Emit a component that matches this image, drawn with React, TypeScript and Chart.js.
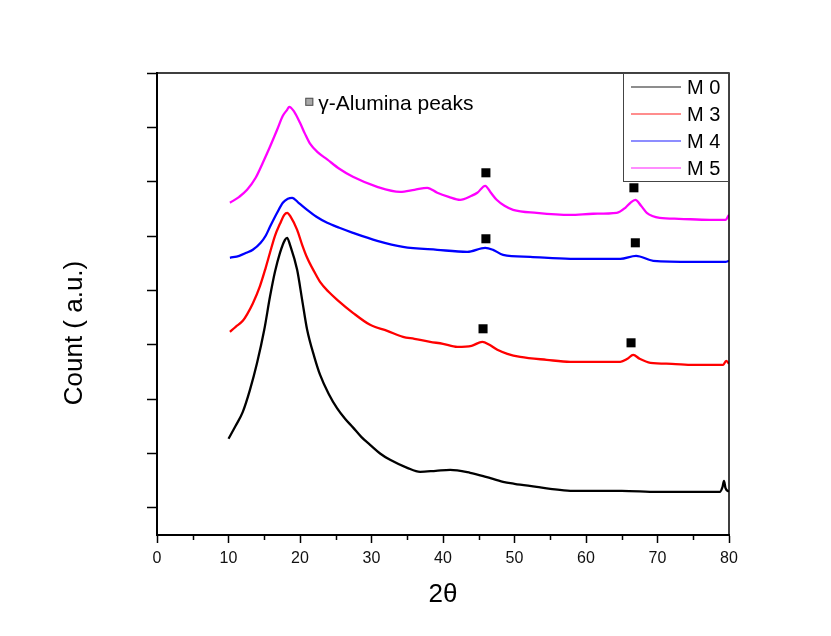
import { useEffect, useRef } from "react";
import { Chart, registerables } from "chart.js";

Chart.register(...registerables);

// ---- data (2θ in degrees, counts in arbitrary units) ----
const m0X = [10, 11, 12, 13, 14, 15, 15.8, 16.5, 17.2, 17.9, 18.2, 18.6, 19.6, 20.3, 21, 22, 22.8, 24, 25.2, 26.3, 27.4, 28.6, 29.8, 31.2, 32.6, 35, 36.8, 39, 41, 43.8, 46, 48.4, 50, 53.1, 55, 57.8, 62, 65, 70, 75, 78.7, 79.1, 79.3, 79.5, 80];
const m0Y = [1270, 1509, 1766, 2171, 2668, 3275, 3882, 4342, 4692, 4931, 4968, 4839, 4379, 3827, 3275, 2778, 2450, 2100, 1830, 1640, 1480, 1300, 1159, 1000, 883, 736, 662, 681, 699, 644, 570, 478, 442, 386, 350, 313, 313, 313, 294, 294, 294, 386, 497, 368, 294];

const m3X = [10.2, 11, 12, 12.6, 13.4, 14.4, 15.2, 15.8, 16.5, 17.2, 17.8, 18.2, 18.7, 19.6, 20.3, 21, 22, 22.8, 24, 25.2, 27.4, 29.8, 32.2, 34.4, 36, 38.2, 40, 42, 44, 45.5, 46.5, 47.6, 49, 50.8, 54.5, 57.8, 61, 64.8, 65.8, 66.6, 67.5, 69, 72, 75, 79.2, 79.6, 80];
const m3Y = [3238, 3330, 3440, 3560, 3760, 4080, 4416, 4692, 5005, 5226, 5391, 5428, 5354, 5115, 4839, 4600, 4342, 4158, 3974, 3827, 3588, 3367, 3257, 3146, 3110, 3054, 3018, 2962, 2981, 3054, 2999, 2907, 2834, 2778, 2723, 2686, 2686, 2686, 2742, 2815, 2742, 2668, 2650, 2631, 2631, 2705, 2650];

const m4X = [10.2, 11.5, 12.5, 13.4, 14.5, 15.2, 15.8, 16.8, 17.6, 18.3, 18.9, 19.8, 21, 22.3, 23.8, 25.5, 27.4, 30.8, 34.4, 39.2, 43.4, 45.9, 47, 48.4, 52.2, 57.8, 64.8, 67, 69.4, 75, 79.5, 80];
const m4Y = [4600, 4637, 4692, 4747, 4876, 5005, 5170, 5428, 5612, 5686, 5704, 5612, 5483, 5354, 5244, 5152, 5060, 4913, 4802, 4747, 4710, 4784, 4747, 4655, 4618, 4582, 4582, 4637, 4545, 4526, 4526, 4545];

const m5X = [10.2, 11.5, 12.6, 13.8, 14.8, 15.8, 16.8, 17.6, 18.2, 18.5, 19.2, 20, 20.7, 21.4, 22.5, 23.8, 25.5, 27.4, 30.8, 34, 36, 37.8, 39.2, 40.8, 42.4, 44, 44.8, 45.9, 46.7, 47.5, 48.6, 49.8, 53.1, 57.8, 61, 64.3, 65.5, 66.2, 66.9, 67.7, 68.5, 70.3, 73, 77.3, 79.5, 80];
const m5Y = [5612, 5722, 5851, 6072, 6348, 6642, 6955, 7213, 7323, 7378, 7286, 7084, 6880, 6700, 6540, 6410, 6238, 6090, 5906, 5814, 5851, 5888, 5796, 5722, 5667, 5741, 5796, 5925, 5796, 5667, 5557, 5483, 5428, 5391, 5410, 5428, 5520, 5612, 5667, 5557, 5428, 5336, 5318, 5299, 5299, 5391];

// γ-alumina peak markers
const peakX = [46, 46, 45.6, 66.7, 66.9, 66.3];
const peakY = [6164, 4950, 3294, 5888, 4876, 3036];

const seriesLabels = ["M 0", "M 3", "M 4", "M 5"];
const seriesColors = ["#000000", "#ff0000", "#0000ff", "#ff00ff"];

const xTickValues = [0, 10, 20, 30, 40, 50, 60, 70, 80];
const xMinorTicks = [5, 15, 25, 35, 45, 55, 65, 75];
const yTickValues = [0, 1000, 2000, 3000, 4000, 5000, 6000, 7000, 8000];

const annotationText = "γ-Alumina peaks";
const annotationAt = { x: 21.3, y: 7470 };
const xTitle = "2θ";
const yTitle = "Count ( a.u.)";

const FONT = "'Liberation Sans', Arial, sans-serif";

const toPts = (xs: number[], ys: number[]) => xs.map((x, i) => ({ x, y: ys[i] }));

const decorPlugin = {
  id: "decor",
  afterDraw(chart: any) {
    const { ctx, chartArea, scales } = chart;
    const { left, right, top, bottom } = chartArea;
    const xs = scales.x;
    const ys = scales.y;
    ctx.save();

    // top and right frame
    ctx.strokeStyle = "#000";
    ctx.lineWidth = 1.5;
    ctx.beginPath();
    ctx.moveTo(left, top);
    ctx.lineTo(right, top);
    ctx.lineTo(right, bottom);
    ctx.stroke();

    // minor x ticks
    ctx.lineWidth = 1.5;
    ctx.beginPath();
    for (const v of xMinorTicks) {
      const px = Math.round(xs.getPixelForValue(v)) + 0.5;
      ctx.moveTo(px, bottom);
      ctx.lineTo(px, bottom + 5);
    }
    ctx.stroke();

    // legend box
    const lx = right - 106;
    const lw = 106;
    const lh = 108;
    ctx.fillStyle = "#fff";
    ctx.fillRect(lx, top, lw, lh);
    ctx.strokeStyle = "#444";
    ctx.lineWidth = 1;
    ctx.strokeRect(lx + 0.5, top + 0.5, lw - 1, lh);
    ctx.font = `20px ${FONT}`;
    ctx.textBaseline = "middle";
    ctx.textAlign = "left";
    for (let i = 0; i < 4; i++) {
      const ds = chart.data.datasets[i];
      const yy = top + 14 + i * 27;
      ctx.strokeStyle = ds.borderColor;
      ctx.globalAlpha = 0.6;
      ctx.lineWidth = 1.5;
      ctx.beginPath();
      ctx.moveTo(lx + 8, yy);
      ctx.lineTo(lx + 58, yy);
      ctx.stroke();
      ctx.globalAlpha = 1;
      ctx.fillStyle = "#000";
      ctx.fillText(ds.label, lx + 64, yy + 1);
    }

    // annotation
    const ax = xs.getPixelForValue(annotationAt.x);
    const ay = ys.getPixelForValue(annotationAt.y);
    ctx.fillStyle = "#a8a8a8";
    ctx.strokeStyle = "#555";
    ctx.lineWidth = 1;
    ctx.fillRect(ax - 4, ay - 4, 8, 8);
    ctx.strokeRect(ax - 3.5, ay - 3.5, 7, 7);
    ctx.fillStyle = "#000";
    ctx.font = `21px ${FONT}`;
    ctx.textBaseline = "middle";
    ctx.fillText(annotationText, ax + 9, ay + 2);

    // axis titles
    ctx.font = `26px ${FONT}`;
    ctx.textAlign = "center";
    ctx.fillStyle = "#000";
    ctx.fillText(xTitle, (left + right) / 2, 595);
    ctx.save();
    ctx.translate(75, 333);
    ctx.rotate(-Math.PI / 2);
    ctx.fillText(yTitle, 0, 0);
    ctx.restore();

    ctx.restore();
  },
};

export default function App() {
  const ref = useRef<HTMLCanvasElement | null>(null);

  useEffect(() => {
    if (!ref.current) return;
    const lineDs = (i: number, xs: number[], ys: number[]) => ({
      type: "line" as const,
      label: seriesLabels[i],
      data: toPts(xs, ys),
      borderColor: seriesColors[i],
      backgroundColor: seriesColors[i],
      borderWidth: 2.3,
      pointRadius: 0,
      cubicInterpolationMode: "monotone" as const,
      fill: false,
    });
    const chart = new Chart(ref.current, {
      type: "line",
      data: {
        datasets: [
          lineDs(0, m0X, m0Y),
          lineDs(1, m3X, m3Y),
          lineDs(2, m4X, m4Y),
          lineDs(3, m5X, m5Y),
          {
            type: "scatter",
            label: "peaks",
            data: toPts(peakX, peakY),
            pointStyle: "rect",
            pointRadius: 6.4,
            backgroundColor: "#000",
            borderWidth: 0,
            showLine: false,
          } as any,
        ],
      },
      options: {
        responsive: false,
        animation: false,
        layout: { padding: { top: 73, right: 102, bottom: 0, left: 0 } },
        plugins: { legend: { display: false }, tooltip: { enabled: false } },
        scales: {
          x: {
            type: "linear",
            min: 0,
            max: 80,
            afterBuildTicks: (s: any) => {
              s.ticks = xTickValues.map((v) => ({ value: v }));
            },
            afterFit: (s: any) => {
              s.height = 101;
            },
            ticks: {
              color: "#111",
              font: { family: FONT, size: 16 },
              padding: 6,
              maxRotation: 0,
            },
            grid: {
              drawOnChartArea: false,
              drawTicks: true,
              tickLength: 8,
              tickWidth: 1.5,
              tickColor: "#000",
            },
            border: { display: true, color: "#000", width: 2 },
          },
          y: {
            type: "linear",
            min: -500,
            max: 8000,
            afterBuildTicks: (s: any) => {
              s.ticks = yTickValues.map((v) => ({ value: v }));
            },
            afterFit: (s: any) => {
              s.width = 157;
            },
            ticks: { display: false },
            grid: {
              drawOnChartArea: false,
              drawTicks: true,
              tickLength: 10,
              tickWidth: 1.5,
              tickColor: "#000",
            },
            border: { display: true, color: "#000", width: 2 },
          },
        },
      },
      plugins: [decorPlugin],
    });
    return () => chart.destroy();
  }, []);

  return (
    <div style={{ position: "fixed", left: 0, top: 0, width: 831, height: 636, background: "#fff" }}>
      <canvas ref={ref} width={831} height={636} style={{ display: "block" }} />
    </div>
  );
}
